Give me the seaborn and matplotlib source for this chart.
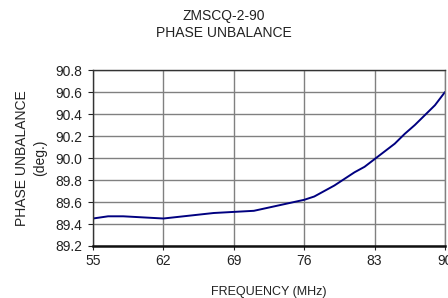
import numpy as np
import pandas as pd
import matplotlib
matplotlib.use("Agg")
import matplotlib.pyplot as plt
import seaborn as sns

# data
freq_mhz = [55, 56.5, 58, 60, 62, 63, 65, 67, 69, 71, 73, 75, 76, 77, 78, 79,
            80, 81, 82, 83, 84, 85, 86, 87, 88, 89, 90]
phase_deg = [89.45, 89.47, 89.47, 89.46, 89.45, 89.46, 89.48, 89.50, 89.51, 89.52,
             89.56, 89.60, 89.62, 89.65, 89.70, 89.75, 89.81, 89.87, 89.92, 89.99,
             90.06, 90.13, 90.22, 90.30, 90.39, 90.48, 90.60]
x_ticks = [55, 62, 69, 76, 83, 90]
y_ticks = [89.2, 89.4, 89.6, 89.8, 90.0, 90.2, 90.4, 90.6, 90.8]

sns.set_style("white")
plt.rcParams["font.family"] = ["Liberation Sans", "DejaVu Sans"]

df = pd.DataFrame({"freq": freq_mhz, "phase": phase_deg})

fig = plt.figure(figsize=(4.48, 2.98), dpi=100)
ax = fig.add_axes([0.2076, 0.1745, 0.7857, 0.5905])

sns.lineplot(data=df, x="freq", y="phase", ax=ax, color="#000080", linewidth=1.4)

ax.set_xlim(55, 90)
ax.set_ylim(89.2, 90.8)
ax.set_xticks(x_ticks)
ax.set_yticks(y_ticks)
ax.set_yticklabels([f"{v:.1f}" for v in y_ticks])
ax.grid(True, color="#808080", linewidth=1.0)
ax.set_axisbelow(True)

ax.tick_params(axis="both", labelsize=10, colors="#222222", width=0.8,
               direction="out", bottom=True, left=True)
ax.tick_params(axis="x", length=3, pad=2.5)
ax.tick_params(axis="y", length=3.5, pad=4)
for s in ["top", "left"]:
    ax.spines[s].set_color("#333333")
    ax.spines[s].set_linewidth(1.0)
ax.spines["right"].set_color("#808080")
ax.spines["right"].set_linewidth(1.0)
ax.spines["bottom"].set_color("#111111")
ax.spines["bottom"].set_linewidth(1.8)

ax.set_xlabel("FREQUENCY (MHz)", fontsize=9, color="#222222", labelpad=13)
ax.set_ylabel("PHASE UNBALANCE\n(deg.)", fontsize=10, color="#222222", labelpad=6,
              linespacing=1.35)
fig.text(0.5, 0.97, "ZMSCQ-2-90\nPHASE UNBALANCE", ha="center", va="top",
         fontsize=10, color="#222222", linespacing=1.3)

fig.savefig("out.png", dpi=100)
